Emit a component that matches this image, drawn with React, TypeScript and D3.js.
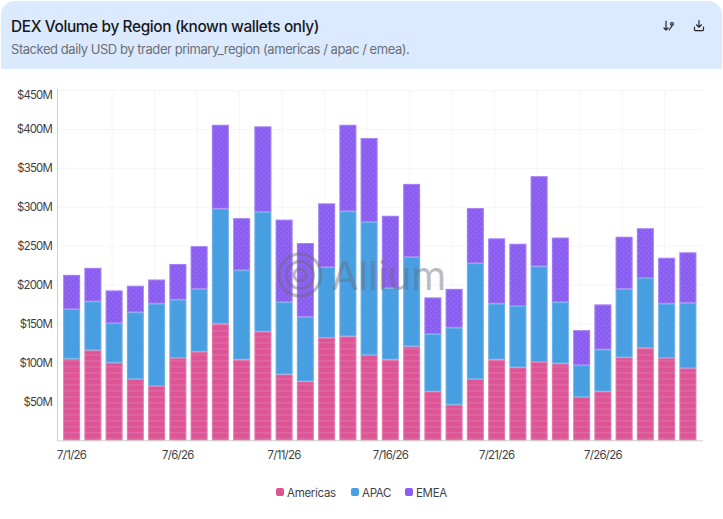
import { useMemo } from "react";
import { scaleBand, scaleLinear, stack } from "d3";

const days = [
  "7/1/26", "7/2/26", "7/3/26", "7/4/26", "7/5/26", "7/6/26", "7/7/26", "7/8/26", "7/9/26", "7/10/26",
  "7/11/26", "7/12/26", "7/13/26", "7/14/26", "7/15/26", "7/16/26", "7/17/26", "7/18/26", "7/19/26", "7/20/26",
  "7/21/26", "7/22/26", "7/23/26", "7/24/26", "7/25/26", "7/26/26", "7/27/26", "7/28/26", "7/29/26", "7/30/26",
];
// $M per day
const americas = [105, 116, 100, 79, 70, 106, 114, 150, 104, 140, 85, 76, 132, 134, 110, 104, 121, 63, 46, 79, 104, 94, 101, 99, 56, 63, 107, 119, 106, 93];
const apac = [64, 63, 51, 86, 106, 75, 81, 148, 115, 154, 93, 83, 91, 161, 171, 92, 115, 74, 99, 149, 72, 79, 123, 79, 41, 54, 88, 90, 70, 84];
const emea = [44, 43, 42, 34, 31, 46, 55, 108, 67, 110, 106, 95, 82, 111, 108, 93, 94, 47, 50, 71, 84, 80, 116, 83, 45, 58, 67, 64, 59, 65];
const yTicks = [50, 100, 150, 200, 250, 300, 350, 400, 450];
const xLabels = ["7/1/26", "7/6/26", "7/11/26", "7/16/26", "7/21/26", "7/26/26"];
const gridDays = ["7/3/26", "7/5/26", "7/7/26", "7/9/26", "7/11/26", "7/13/26", "7/15/26", "7/17/26", "7/19/26", "7/21/26", "7/23/26", "7/25/26", "7/27/26", "7/29/26"];
const seriesNames = ["Americas", "APAC", "EMEA"];
const colors = ["#dd5597", "#479fe2", "#8a5df0"];
const patterns = ["stripes", "sparseDots", "denseDots"];

const FONT = "Inter, sans-serif";

export default function App() {
  const rows = useMemo(
    () => days.map((day, i) => ({ day, Americas: americas[i], APAC: apac[i], EMEA: emea[i] })),
    []
  );
  const layers = stack<any>().keys(seriesNames)(rows);

  const x = scaleBand<string>().domain(days).range([61, 698.5]).paddingInner(0.2).paddingOuter(0.1);
  const y = scaleLinear().domain([0, 450]).range([440.5, 90.6]);

  return (
    <div style={{ position: "fixed", left: 0, top: 0 }}>
      <svg width={723} height={519} style={{ display: "block", background: "#fff", fontFamily: FONT }}>
        <defs>
          <pattern id="stripes" width="6" height="6" patternUnits="userSpaceOnUse">
            <rect y="0" width="6" height="1.5" fill="#fff" opacity="0.1" />
          </pattern>
          <pattern id="sparseDots" width="10" height="10" patternUnits="userSpaceOnUse">
            <circle cx="3" cy="3" r="0.6" fill="#fff" opacity="0.2" />
          </pattern>
          <pattern id="denseDots" width="5" height="5" patternUnits="userSpaceOnUse">
            <circle cx="1.2" cy="1.2" r="0.9" fill="#fff" opacity="0.1" />
            <circle cx="3.7" cy="3.7" r="0.9" fill="#fff" opacity="0.1" />
          </pattern>
        </defs>

        {/* header */}
        <path d="M1 69V15a14 14 0 0 1 14-14H708a14 14 0 0 1 14 14V69Z" fill="#dbeafe" />
        <text x={11} y={32} fontSize={15.4} fontWeight={500} letterSpacing={-0.37} fill="#18181b">
          DEX Volume by Region (known wallets only)
        </text>
        <text x={11} y={54} fontSize={13} letterSpacing={-0.45} fill="#6b6f76">
          Stacked daily USD by trader primary_region (americas / apac / emea).
        </text>
        <g fill="none" stroke="#27272a" strokeWidth={1.2} strokeLinecap="round" strokeLinejoin="round">
          <path d="M666 21V30M664 28l2 2 2-2M672 22.5a1.4 1.4 0 1 0 .01 0M672 25c0 3-2 2.5-2.8 5" />
          <path d="M699 20.5V27M696.5 24.8l2.5 2.4 2.5-2.4M694.5 27v2.8a.8.8 0 0 0 .8.8h7.4a.8.8 0 0 0 .8-.8V27" />
        </g>

        {/* grid */}
        {yTicks.map((t) => (
          <line key={t} x1={57} x2={703} y1={y(t)} y2={y(t)} stroke="#f5f5f5" />
        ))}
        {gridDays.map((d) => {
          const gx = (x(d) as number) + x.bandwidth() / 2 - 2;
          return <line key={d} x1={gx} x2={gx} y1={90} y2={440} stroke="#f5f5f5" />;
        })}

        {/* bars */}
        {layers.map((layer, s) => (
          <g key={layer.key}>
            {layer.map((d, i) => {
              const bx = x(days[i]) as number;
              const top = y(d[1]);
              const h = y(d[0]) - top;
              return (
                <g key={i}>
                  <rect x={bx} y={top} width={x.bandwidth()} height={h} fill={colors[s]} />
                  <rect x={bx} y={top} width={x.bandwidth()} height={h} fill={`url(#${patterns[s]})`} />
                  <rect
                    x={bx + 0.5}
                    y={top + 0.5}
                    width={x.bandwidth() - 1}
                    height={h - 1}
                    fill="none"
                    stroke="#fff"
                    strokeOpacity={0.22}
                  />
                </g>
              );
            })}
          </g>
        ))}

        {/* axes */}
        <line x1={57.5} x2={57.5} y1={89} y2={441} stroke="#cfcfcf" />
        <line x1={57} x2={703} y1={440.8} y2={440.8} stroke="#cfcfcf" />
        {yTicks.map((t) => (
          <text
            key={t}
            x={52}
            y={t === 450 ? 99 : y(t) + 4}
            textAnchor="end"
            fontSize={11.4}
            letterSpacing={-0.8}
            fill="#3f3f46"
          >
            ${t}M
          </text>
        ))}
        {xLabels.map((d) => (
          <text
            key={d}
            x={(x(d) as number) + x.bandwidth() / 2}
            y={459}
            textAnchor="middle"
            fontSize={11.4}
            letterSpacing={-0.7}
            fill="#3f3f46"
          >
            {d}
          </text>
        ))}

        {/* watermark */}
        <g opacity={0.45} fill="none" stroke="#6b6b7b">
          <circle cx={300} cy={275} r={21} strokeWidth={3} />
          <circle cx={300} cy={275} r={13.5} strokeWidth={3} />
          <circle cx={300} cy={275} r={6} strokeWidth={3} />
        </g>
        <text x={331} y={290} fontSize={40} fill="#6b6b7b" opacity={0.45}>
          Allium
        </text>

        {/* legend */}
        {seriesNames.map((name, i) => {
          const lx = [276, 351, 405][i];
          return (
            <g key={name}>
              <rect x={lx} y={488} width={8} height={8} rx={2} fill={colors[i]} />
              <text x={lx + 11} y={497} fontSize={11.5} letterSpacing={-0.3} fill="#3f3f46">
                {name}
              </text>
            </g>
          );
        })}
      </svg>
    </div>
  );
}
